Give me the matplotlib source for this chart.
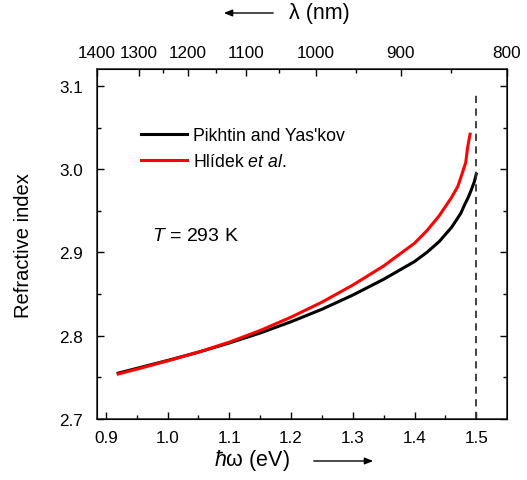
import numpy as np
import matplotlib
matplotlib.use("Agg")
import matplotlib.pyplot as plt
from matplotlib.patches import FancyArrowPatch
from matplotlib.ticker import MultipleLocator, FixedLocator

plt.rcParams['font.family'] = ['Liberation Sans', 'DejaVu Sans']
plt.rcParams['mathtext.fontset'] = 'custom'
plt.rcParams['mathtext.it'] = 'Liberation Sans:italic'
plt.rcParams['mathtext.rm'] = 'Liberation Sans'

# Photon energy (eV) and refractive index for the two models
energy_pikhtin = [0.92, 0.95, 1.00, 1.05, 1.10, 1.15, 1.20, 1.25, 1.30, 1.35,
                  1.40, 1.42, 1.44, 1.46, 1.468, 1.475, 1.481, 1.487, 1.492,
                  1.497, 1.50]
n_pikhtin = [2.755, 2.7607, 2.7702, 2.7802, 2.7912, 2.8032, 2.8167, 2.8317, 2.8487,
             2.8677, 2.889, 2.900, 2.913, 2.930, 2.939, 2.947, 2.957, 2.966, 2.975,
             2.985, 2.994]

energy_hlidek = [0.92, 0.95, 1.00, 1.05, 1.10, 1.15, 1.20, 1.25, 1.30, 1.35,
                 1.40, 1.42, 1.44, 1.46, 1.47, 1.476, 1.483, 1.486, 1.490]
n_hlidek = [2.754, 2.7597, 2.7697, 2.7802, 2.7922, 2.8062, 2.8222, 2.8402, 2.8607,
            2.8837, 2.911, 2.926, 2.944, 2.966, 2.979, 2.992, 3.008, 3.026, 3.042]

gap_energy = 1.5
wavelength_ticks = [1400, 1300, 1200, 1100, 1000, 900, 800]
wavelength_minor = [1250, 1150, 1050, 950, 850]
HC = 1239.84  # eV*nm

fig = plt.figure(figsize=(5.27, 4.81), dpi=100)
ax = fig.add_axes([0.184, 0.127, 0.778, 0.727])

ax.plot(energy_pikhtin, n_pikhtin, color='black', lw=2.2, label='Pikhtin and Yas\'kov',
        solid_joinstyle='round')
ax.plot(energy_hlidek, n_hlidek, color='#ff0000', lw=2.2, label=r'Hlídek $\it{et\ al.}$',
        solid_joinstyle='round')
ax.axvline(gap_energy, ymax=(3.09 - 2.7) / 0.42, color='#333333', lw=1.3,
           linestyle=(0, (4, 3)))

xmin, xmax = HC / 1400, HC / 800
ax.set_xlim(xmin, xmax)
ax.set_ylim(2.7, 3.12)
ax.xaxis.set_major_locator(MultipleLocator(0.1))
ax.xaxis.set_minor_locator(MultipleLocator(0.05))
ax.yaxis.set_major_locator(MultipleLocator(0.1))
ax.yaxis.set_minor_locator(MultipleLocator(0.05))
ax.xaxis.set_major_formatter(plt.FormatStrFormatter('%.1f'))
ax.yaxis.set_major_formatter(plt.FormatStrFormatter('%.1f'))
ax.tick_params(which='both', direction='in', right=True, top=False,
               labelsize=12.3, width=1.0)
ax.tick_params(which='major', length=5)
ax.tick_params(which='minor', length=3)
ax.tick_params(axis='x', pad=8)
ax.tick_params(axis='y', pad=10)
for s in ax.spines.values():
    s.set_linewidth(1.1)
    s.set_color('#222222')

ax.set_ylabel('Refractive index', fontsize=14.5, labelpad=19)

# Wavelength axis on top
top = ax.twiny()
top.set_xlim(xmin, xmax)
top.xaxis.set_major_locator(FixedLocator([HC / w for w in wavelength_ticks]))
top.xaxis.set_minor_locator(FixedLocator([HC / w for w in wavelength_minor]))
top.set_xticklabels([str(w) for w in wavelength_ticks])
top.tick_params(which='both', direction='in', labelsize=12.3, width=1.0, pad=7)
top.tick_params(which='major', length=5)
top.tick_params(which='minor', length=3)

# Axis captions with direction arrows
fig.text(289 / 527, 1 - 14 / 481, 'λ (nm)', fontsize=15.5, ha='left', va='center')
fig.add_artist(FancyArrowPatch(
    (276 / 527, 1 - 14 / 481), (221 / 527, 1 - 14 / 481), transform=fig.transFigure,
    arrowstyle='-|>,head_length=5,head_width=2', color='black', lw=1.0))
fig.text(214 / 527, 1 - 461 / 481, r'$\hbar$ω (eV)', fontsize=15.5, ha='left', va='center')
fig.add_artist(FancyArrowPatch(
    (311 / 527, 1 - 462 / 481), (376 / 527, 1 - 462 / 481), transform=fig.transFigure,
    arrowstyle='-|>,head_length=5,head_width=2', color='black', lw=1.0))

leg = ax.legend(loc='upper left', bbox_to_anchor=(0.09, 0.855), frameon=False,
                fontsize=12.7, handlelength=2.6, handletextpad=0.35, labelspacing=0.5,
                borderaxespad=0)

ax.text(0.135, 0.525, r'$T$ = 293 K', transform=ax.transAxes, fontsize=14,
        ha='left', va='center')

fig.savefig('out.png', dpi=100)
